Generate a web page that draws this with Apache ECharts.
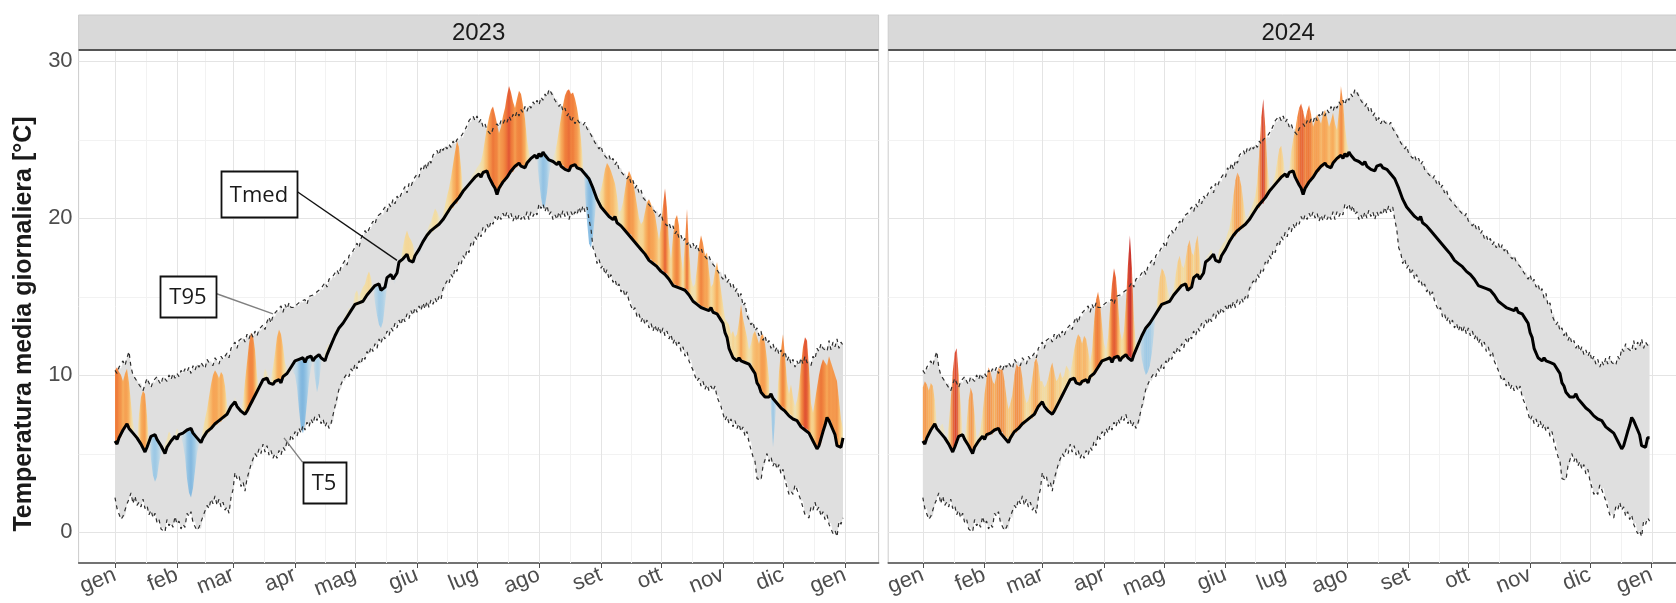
<!DOCTYPE html>
<html>
<head>
<meta charset="utf-8">
<script src="https://cdn.jsdelivr.net/npm/echarts@6/dist/echarts.min.js"></script>
<style>
  html, body { margin: 0; padding: 0; background: #ffffff; }
  #chart { width: 1676px; height: 603px; }
</style>
</head>
<body>
<div id="chart"></div>
<script>
// ---- Axis labels and ticks -------------------------------------------------
const monthNames = ['gen', 'feb', 'mar', 'apr', 'mag', 'giu', 'lug', 'ago', 'set', 'ott', 'nov', 'dic', 'gen'];
const monthStarts2023 = [0, 31, 59, 90, 120, 151, 181, 212, 243, 273, 304, 334, 365];
const monthStarts2024 = [0, 31, 60, 91, 121, 152, 182, 213, 244, 274, 305, 335, 366];
const yTicks = [0, 10, 20, 30];
const yMinorTicks = [5, 15, 25];
const years = ['2023', '2024'];

// ---- Daily climatology (day of year 0..365), °C ----------------------------
const tmed = [
  5.8, 5.6, 6.0, 6.0, 6.5, 6.5, 6.9, 6.6, 6.6, 6.3, 6.3, 6.0, 6.1, 5.6, 5.5, 5.1, 5.4, 5.5, 6.1, 6.2, 6.2, 5.9, 5.9, 5.5, 5.4, 5.0, 5.4, 5.4, 5.8, 5.7, 6.1,
  5.9, 6.2, 6.1, 6.3, 6.2, 6.5, 6.4, 6.6, 6.3, 6.4, 6.0, 6.1, 5.7, 6.0, 6.0, 6.4, 6.3, 6.6, 6.6, 6.9, 6.8, 7.1, 7.0, 7.3, 7.2, 7.5, 7.5, 8.0,
  7.9, 8.3, 8.0, 8.1, 7.7, 7.8, 7.5, 7.7, 7.7, 8.2, 8.2, 8.7, 8.7, 9.2, 9.2, 9.7, 9.6, 9.8, 9.5, 9.6, 9.4, 9.6, 9.5, 9.7, 9.5, 9.9, 9.8, 10.1, 10.1, 10.5, 10.5,
  10.9, 10.8, 11.0, 10.9, 11.1, 10.8, 11.1, 11.0, 11.2, 10.9, 11.1, 11.0, 11.3, 11.1, 11.2, 10.9, 11.3, 11.4, 11.9, 12.0, 12.5, 12.6, 13.0, 12.9, 13.3, 13.3, 13.7, 13.7, 14.1, 14.1,
  14.5, 14.4, 14.6, 14.5, 14.7, 14.7, 15.1, 15.1, 15.4, 15.4, 15.7, 15.6, 15.8, 15.4, 15.5, 15.6, 16.2, 16.1, 16.4, 16.1, 16.1, 16.5, 17.2, 17.1, 17.4, 17.4, 17.7, 17.3, 17.3, 17.2, 17.6,
  17.6, 18.0, 18.1, 18.5, 18.5, 18.9, 18.8, 19.2, 19.1, 19.4, 19.3, 19.6, 19.6, 19.9, 19.9, 20.3, 20.3, 20.7, 20.6, 21.0, 20.9, 21.3, 21.3, 21.7, 21.7, 22.0, 22.0, 22.3, 22.3, 22.6,
  22.5, 22.8, 22.6, 22.9, 22.8, 23.0, 22.6, 22.6, 22.1, 21.9, 21.5, 21.9, 21.9, 22.3, 22.3, 22.6, 22.6, 23.0, 22.9, 23.3, 23.2, 23.5, 23.3, 23.4, 23.2, 23.5, 23.5, 23.8, 23.7, 24.0, 23.8,
  24.1, 23.9, 24.2, 24.0, 24.1, 23.7, 23.8, 23.6, 23.7, 23.4, 23.6, 23.3, 23.4, 23.1, 23.2, 23.0, 23.3, 23.2, 23.4, 23.2, 23.3, 23.1, 23.1, 22.8, 22.9, 22.5, 22.5, 21.9, 21.8, 21.2, 21.1,
  20.7, 20.7, 20.4, 20.4, 20.1, 20.2, 19.9, 20.1, 19.7, 19.8, 19.5, 19.5, 19.2, 19.2, 18.9, 19.0, 18.6, 18.6, 18.3, 18.3, 18.0, 18.0, 17.7, 17.7, 17.3, 17.4, 17.1, 17.2, 16.9, 17.0,
  16.6, 16.7, 16.4, 16.5, 16.1, 16.1, 15.7, 15.8, 15.6, 15.7, 15.5, 15.6, 15.4, 15.5, 15.1, 15.1, 14.7, 14.8, 14.5, 14.6, 14.3, 14.4, 14.2, 14.3, 14.1, 14.3, 14.0, 14.1, 13.9, 13.9, 13.5,
  13.3, 12.7, 12.4, 11.7, 11.6, 11.1, 11.2, 10.9, 11.1, 10.9, 11.0, 10.8, 10.9, 10.7, 10.8, 10.3, 10.1, 9.5, 9.3, 8.9, 8.9, 8.6, 8.7, 8.6, 8.8, 8.5, 8.6, 8.2, 8.2, 7.9,
  8.0, 7.7, 7.7, 7.4, 7.5, 7.2, 7.3, 7.1, 7.1, 6.7, 6.8, 6.5, 6.6, 6.3, 6.3, 5.8, 5.7, 5.3, 5.5, 5.6, 6.4, 6.8, 7.3, 7.1, 7.1, 6.5, 6.2, 5.5, 5.5, 5.4, 6.0, 6.0
];
const t95 = [
  10.3, 10.1, 10.5, 10.4, 10.9, 10.6, 11.1, 11.5, 10.5, 10.0, 9.8, 9.7, 9.4, 9.5, 9.0, 9.4, 9.8, 9.5, 9.2, 9.6, 9.5, 9.9, 9.6, 9.4, 9.9, 9.8, 9.6, 10.0, 9.7, 10.1, 9.8,
  10.1, 9.9, 10.3, 10.1, 10.4, 10.2, 10.5, 10.1, 10.6, 10.3, 10.7, 10.5, 10.8, 10.6, 10.4, 11.0, 10.8, 10.9, 10.6, 11.1, 10.9, 10.7, 11.2, 11.0, 11.1, 11.4, 11.1, 11.7,
  11.6, 12.1, 11.7, 12.2, 12.1, 12.4, 12.1, 12.6, 12.3, 12.7, 12.4, 12.8, 12.5, 12.9, 12.8, 13.2, 12.9, 13.4, 13.7, 13.3, 13.8, 13.7, 14.1, 14.0, 14.4, 14.0, 14.5, 14.2, 14.6, 14.3, 14.4,
  14.3, 14.5, 14.4, 14.7, 14.6, 14.8, 14.5, 15.0, 14.9, 15.1, 15.0, 15.3, 15.2, 15.5, 15.4, 15.9, 15.6, 16.1, 16.0, 16.3, 16.2, 16.7, 16.4, 16.9, 16.8, 17.3, 17.0, 17.6, 17.5, 17.9,
  17.9, 18.4, 18.1, 18.7, 18.7, 19.2, 19.0, 19.3, 19.3, 19.8, 19.6, 20.1, 20.0, 20.3, 20.2, 20.7, 20.4, 20.9, 20.7, 21.2, 20.9, 21.4, 21.2, 21.5, 21.5, 22.0, 21.6, 22.2, 22.0, 22.4, 22.3,
  22.8, 22.6, 23.2, 23.0, 23.5, 23.1, 23.7, 23.5, 24.0, 23.9, 24.3, 24.0, 24.5, 24.3, 24.6, 24.4, 24.7, 24.5, 24.9, 24.7, 25.0, 24.9, 25.2, 25.1, 25.6, 25.6, 26.2, 26.1, 26.5, 26.2,
  26.5, 26.1, 26.3, 25.8, 26.0, 25.6, 25.7, 25.3, 25.7, 25.6, 26.0, 25.8, 26.2, 26.0, 26.3, 26.1, 26.5, 26.2, 26.6, 26.4, 26.8, 26.5, 26.9, 26.7, 27.1, 26.8, 27.2, 27.0, 27.4, 27.2, 27.5,
  27.2, 27.7, 27.5, 27.9, 27.7, 28.2, 28.0, 28.0, 27.5, 27.6, 27.1, 27.3, 26.8, 27.0, 26.5, 26.7, 26.1, 26.4, 26.0, 26.3, 26.1, 26.2, 25.9, 26.1, 25.7, 25.8, 25.3, 25.3, 24.8, 24.9, 24.4,
  24.6, 24.1, 24.2, 23.8, 24.0, 23.6, 23.8, 23.4, 23.6, 23.1, 23.2, 22.8, 22.9, 22.5, 22.7, 22.2, 22.4, 21.9, 22.1, 21.6, 21.8, 21.3, 21.4, 21.0, 21.1, 20.7, 20.8, 20.4, 20.5, 20.1,
  20.3, 19.8, 19.9, 19.5, 19.7, 19.3, 19.5, 19.0, 19.2, 18.7, 18.9, 18.5, 18.7, 18.3, 18.5, 18.1, 18.4, 18.0, 18.3, 17.9, 18.1, 17.7, 17.8, 17.4, 17.6, 17.2, 17.3, 16.9, 16.9, 16.5, 16.6,
  16.1, 16.4, 15.9, 16.1, 15.6, 15.8, 15.3, 15.5, 14.9, 15.2, 14.4, 14.6, 13.8, 13.9, 13.2, 13.4, 12.8, 13.0, 12.5, 12.8, 12.2, 12.5, 12.0, 12.2, 11.7, 12.0, 11.5, 11.8, 11.3, 11.6,
  11.2, 11.5, 10.9, 11.2, 10.7, 11.0, 10.5, 10.9, 10.6, 11.1, 10.7, 11.2, 10.8, 10.9, 10.6, 11.2, 11.0, 11.7, 11.5, 12.0, 11.7, 11.8, 11.5, 12.2, 11.6, 12.1, 11.8, 12.3, 11.7, 12.1, 11.9, 12.0
];
const t5 = [
  2.2, 1.5, 1.5, 0.8, 1.0, 1.0, 1.8, 2.1, 2.5, 1.8, 2.3, 1.7, 1.9, 1.6, 2.1, 1.5, 1.7, 1.1, 1.4, 0.9, 1.2, 0.6, 0.8, 0.2, 0.3, 0.0, 0.8, 0.4, 0.6, 0.3, 1.0,
  0.5, 0.7, 0.2, 0.5, 0.3, 1.2, 1.0, 1.3, 0.6, 0.7, 0.1, 0.3, 0.2, 1.0, 0.9, 1.7, 1.5, 2.1, 1.8, 2.3, 1.7, 2.1, 1.6, 1.9, 1.4, 1.6, 1.2, 2.2,
  2.7, 3.8, 3.4, 3.6, 2.9, 3.2, 2.6, 3.4, 3.4, 4.3, 4.2, 5.0, 4.8, 5.3, 5.0, 5.6, 5.1, 5.5, 4.9, 5.2, 4.7, 5.0, 4.7, 5.2, 4.9, 5.4, 5.2, 5.8, 5.5, 6.2, 5.9,
  6.4, 6.1, 6.6, 6.3, 6.8, 6.5, 7.0, 6.7, 7.2, 6.9, 7.4, 7.1, 7.5, 6.9, 7.2, 6.7, 7.0, 6.6, 6.9, 7.0, 8.0, 8.1, 9.1, 9.1, 9.7, 9.6, 10.1, 9.9, 10.4, 10.2,
  10.7, 10.4, 10.9, 10.7, 11.2, 11.0, 11.5, 11.3, 11.8, 11.5, 12.0, 11.7, 12.3, 12.0, 12.5, 12.3, 12.8, 12.5, 13.0, 12.8, 13.3, 13.0, 13.5, 13.2, 13.7, 13.4, 13.9, 13.6, 14.1, 13.8, 14.3,
  14.0, 14.4, 14.1, 14.6, 14.2, 14.7, 14.3, 14.8, 14.5, 14.9, 14.6, 15.0, 14.8, 15.5, 15.4, 16.0, 15.8, 16.4, 16.2, 16.8, 16.6, 17.2, 17.0, 17.6, 17.4, 18.0, 17.8, 18.4, 18.2, 18.8,
  18.6, 19.1, 18.8, 19.4, 19.1, 19.6, 19.3, 19.8, 19.6, 20.1, 19.8, 20.2, 19.9, 20.3, 20.0, 20.4, 20.0, 20.3, 19.8, 20.2, 19.8, 20.2, 19.9, 20.2, 19.9, 20.4, 19.9, 20.4, 20.1, 20.4, 20.2,
  20.9, 20.6, 20.9, 20.4, 20.8, 20.2, 20.4, 19.9, 20.2, 19.9, 20.4, 20.0, 20.5, 20.1, 20.4, 19.9, 20.4, 20.1, 20.4, 20.2, 20.7, 20.3, 20.8, 20.4, 20.7, 19.9, 19.3, 18.1, 17.8, 17.1, 17.4,
  16.8, 17.0, 16.4, 16.7, 16.1, 16.4, 15.9, 16.1, 15.6, 15.8, 15.3, 15.5, 15.0, 15.3, 14.7, 14.8, 14.1, 14.3, 13.7, 13.9, 13.4, 13.7, 13.2, 13.5, 13.0, 13.3, 12.8, 13.2, 12.7, 13.1,
  12.6, 13.0, 12.5, 12.8, 12.3, 12.6, 12.0, 12.3, 11.8, 12.1, 11.5, 11.8, 11.2, 11.5, 10.9, 11.0, 10.3, 10.3, 9.6, 9.8, 9.3, 9.6, 9.1, 9.4, 9.0, 9.3, 9.0, 9.3, 8.6, 8.7, 8.0,
  7.9, 7.1, 7.4, 6.9, 7.2, 6.7, 7.1, 6.6, 6.9, 6.4, 6.7, 6.1, 6.4, 5.7, 5.8, 4.8, 4.5, 3.4, 3.4, 3.3, 4.2, 4.3, 5.0, 4.5, 4.8, 4.2, 4.5, 4.0, 4.3, 3.7,
  4.0, 3.3, 3.2, 2.4, 2.6, 2.4, 3.0, 2.7, 2.8, 2.0, 2.0, 1.1, 1.2, 0.9, 1.6, 1.4, 1.9, 1.4, 1.6, 1.0, 1.3, 0.8, 1.1, 0.5, 0.6, -0.1, 0.1, -0.3, 0.7, 0.5, 0.9, 0.7
];

// ---- Observed daily mean temperature, °C -----------------------------------
const obs2023 = [
  10.3, 10.5, 10.2, 10.0, 9.6, 10.1, 10.4, 9.5, 8.2, 7.0, 6.4, 6.1, 7.5, 8.6, 9.0, 8.8, 7.4, 5.8, 4.6, 3.6, 3.2, 3.5, 4.4, 5.0, 5.4, 5.6, 6.0, 6.4, 6.2, 5.9, 6.3,
  6.6, 6.4, 6.0, 5.6, 4.8, 3.4, 2.5, 2.2, 2.8, 3.9, 5.0, 5.6, 6.0, 6.6, 7.2, 7.8, 8.6, 9.4, 10.0, 10.3, 10.1, 9.8, 10.2, 10.0, 9.3, 8.2, 7.5, 7.8,
  8.2, 8.6, 8.3, 7.8, 7.9, 8.4, 9.6, 10.8, 12.0, 12.7, 12.5, 11.6, 10.0, 9.2, 9.4, 9.9, 10.4, 10.2, 9.8, 9.9, 10.5, 11.4, 12.4, 12.9, 12.6, 11.8, 10.8, 10.4, 10.3, 10.4, 10.2,
  10.0, 9.2, 7.8, 6.6, 6.3, 7.0, 8.3, 9.6, 10.5, 10.8, 9.8, 8.9, 9.5, 10.6, 11.2, 11.4, 11.8, 12.0, 11.6, 12.3, 12.8, 13.0, 12.6, 12.9, 13.4, 13.8, 14.0, 14.3, 14.1, 14.5,
  15.2, 15.4, 15.0, 15.3, 15.6, 15.8, 16.3, 16.6, 16.2, 15.5, 14.6, 13.8, 13.2, 13.0, 13.4, 14.5, 15.6, 16.3, 16.4, 16.0, 15.8, 16.6, 17.3, 17.5, 18.2, 18.8, 19.2, 18.8, 18.6, 18.3, 17.8,
  17.9, 17.6, 17.9, 18.4, 18.9, 19.2, 19.5, 19.8, 20.2, 20.6, 20.4, 20.1, 19.9, 20.3, 20.8, 21.4, 21.9, 22.6, 23.4, 24.2, 24.9, 24.5, 23.2, 22.0, 21.8, 22.0, 22.3, 22.6, 22.8, 23.0,
  23.2, 23.4, 23.6, 24.2, 25.0, 25.8, 26.4, 26.9, 27.1, 26.6, 26.0, 25.4, 25.8, 26.5, 27.0, 27.8, 28.4, 28.0, 27.4, 27.0, 27.6, 28.1, 27.9, 27.2, 26.3, 25.0, 24.2, 23.8, 23.9, 24.2, 23.6,
  22.4, 21.3, 20.6, 20.8, 21.6, 22.7, 23.4, 23.9, 24.2, 24.8, 25.6, 26.4, 27.2, 27.8, 28.1, 28.2, 27.9, 28.0, 27.6, 27.0, 26.2, 25.0, 23.6, 21.5, 19.8, 18.4, 18.1, 18.9, 20.2, 21.4, 21.5,
  21.8, 22.4, 23.1, 23.5, 23.3, 23.0, 22.6, 22.2, 21.4, 20.4, 20.5, 21.0, 21.8, 22.6, 23.0, 22.7, 22.3, 21.6, 20.8, 20.0, 19.6, 19.8, 20.4, 21.0, 21.2, 20.9, 20.5, 20.2, 19.4, 18.6,
  19.5, 20.8, 21.9, 20.6, 18.4, 17.4, 18.8, 19.9, 20.2, 19.5, 17.6, 16.6, 18.5, 20.6, 18.0, 16.2, 15.6, 15.8, 16.8, 18.2, 18.9, 18.4, 17.6, 17.8, 16.6, 15.6, 15.8, 16.6, 17.2, 16.4, 15.4,
  14.5, 13.6, 13.4, 13.2, 12.6, 12.8, 12.4, 12.6, 13.4, 14.5, 13.6, 13.0, 12.4, 11.6, 12.0, 12.6, 12.8, 12.4, 12.0, 12.5, 12.6, 12.0, 11.0, 9.8, 7.6, 5.4, 7.0, 8.6, 10.2, 11.6,
  12.6, 11.2, 9.6, 8.8, 9.4, 8.6, 8.0, 8.4, 9.2, 10.6, 11.8, 12.4, 12.2, 10.4, 8.2, 7.6, 8.4, 9.2, 10.0, 10.6, 11.0, 10.8, 10.6, 11.2, 10.8, 10.4, 10.0, 9.6, 8.4, 7.2, 6.6
];
const obs2024 = [
  9.2, 9.6, 9.4, 9.0, 9.5, 9.3, 8.4, 7.0, 6.6, 6.8, 6.9, 6.4, 6.0, 6.8, 8.4, 10.2, 11.4, 11.7, 10.0, 8.0, 6.4, 6.2, 7.0, 8.4, 9.2, 8.8, 7.4, 6.0, 6.2, 6.6, 7.6,
  8.8, 9.8, 10.5, 10.2, 9.6, 9.4, 10.0, 10.5, 10.3, 10.4, 9.6, 8.6, 7.8, 8.2, 8.8, 10.0, 10.7, 10.5, 10.6, 9.8, 8.8, 8.2, 8.4, 9.0, 9.8, 10.8, 11.1, 10.6,
  9.6, 9.6, 9.2, 9.4, 9.8, 10.4, 10.8, 10.2, 9.6, 9.8, 10.2, 9.8, 10.0, 10.6, 10.4, 10.2, 10.8, 11.6, 12.2, 12.6, 12.4, 12.0, 12.5, 12.3, 11.6, 10.8, 11.6, 13.4, 14.8, 15.3, 14.6,
  13.2, 12.0, 11.6, 12.4, 14.2, 15.8, 16.8, 16.2, 14.6, 12.8, 12.2, 12.8, 14.6, 17.0, 18.9, 16.8, 13.6, 12.0, 12.2, 11.8, 11.0, 10.4, 10.0, 10.2, 10.6, 11.4, 12.6, 13.8, 15.2, 16.2,
  16.8, 16.6, 16.2, 15.4, 15.0, 15.2, 15.6, 16.4, 17.2, 17.6, 17.0, 16.8, 17.4, 18.2, 18.6, 17.8, 17.6, 18.4, 18.9, 17.6, 16.4, 16.8, 17.4, 17.6, 17.8, 18.0, 17.4, 17.0, 17.6, 18.0, 18.2,
  18.4, 18.6, 19.0, 19.4, 20.2, 21.4, 22.4, 22.9, 22.6, 22.0, 21.0, 20.2, 20.0, 20.4, 20.6, 21.0, 21.4, 22.4, 24.2, 26.4, 27.6, 25.8, 23.4, 22.2, 22.0, 22.4, 22.8, 23.6, 24.4, 24.6,
  23.8, 23.0, 22.8, 23.2, 24.2, 25.0, 25.6, 26.4, 27.0, 27.3, 26.8, 26.2, 26.8, 27.2, 26.6, 25.8, 26.2, 26.6, 26.3, 26.0, 26.6, 26.9, 26.4, 25.8, 26.2, 26.7, 26.0, 25.6, 26.8, 28.4,
  27.4, 25.8, 24.8, 24.4
];

// ---- Layout ----------------------------------------------------------------
const SANS = '"Liberation Sans", Arial, Helvetica, sans-serif';
const PANEL_LEFT = [78.6, 888.2];
const PANEL_TOP = 50, PANEL_W = 800, PANEL_H = 513;
const STRIP_TOP = 15;
const X_RANGE = [[-18.2, 381.8], [-17.4, 384.4]];
const Y_RANGE = [-1.97, 30.7];

// Anomaly colour ramp: warm above the mean, cool below
const warmRamp = [[0, 255, 238, 160, 0], [0.8, 255, 226, 130, 0.5], [2, 253, 200, 110, 0.8], [3.2, 250, 165, 75, 0.9],
                  [4.8, 240, 120, 50, 0.95], [6, 222, 70, 40, 0.95], [7.5, 190, 28, 30, 0.95]];
const coolRamp = [[0, 170, 212, 236, 0], [0.8, 170, 212, 236, 0.5], [2.5, 150, 200, 232, 0.8], [4.5, 118, 178, 222, 0.9]];

function rampColour(a) {
  const stops = a >= 0 ? warmRamp : coolRamp;
  const v = Math.abs(a);
  const last = stops[stops.length - 1];
  if (v >= last[0]) return `rgba(${last[1]},${last[2]},${last[3]},${last[4]})`;
  for (let k = 1; k < stops.length; k++) {
    if (v <= stops[k][0]) {
      const p = stops[k - 1], q = stops[k];
      const t = (v - p[0]) / (q[0] - p[0]);
      const m = j => p[j] + (q[j] - p[j]) * t;
      return `rgba(${Math.round(m(1))},${Math.round(m(2))},${Math.round(m(3))},${m(4).toFixed(3)})`;
    }
  }
  return 'rgba(0,0,0,0)';
}

// Background grid lines (major at months / every 10 °C, minor in between)
function gridLineSeries(k) {
  const starts = k === 0 ? monthStarts2023 : monthStarts2024;
  return {
    type: 'custom', xAxisIndex: k, yAxisIndex: k, z: 1, silent: true, clip: true,
    data: [[0, 0]],
    renderItem(params, api) {
      const cs = params.coordSys;
      const kids = [];
      const hLine = (v, col) => {
        const y = Math.round(api.coord([0, v])[1]) + 0.5;
        kids.push({ type: 'line', shape: { x1: cs.x, y1: y, x2: cs.x + cs.width, y2: y }, style: { stroke: col, lineWidth: 1 } });
      };
      const vLine = (d, col) => {
        const x = Math.round(api.coord([d, 0])[0]) + 0.5;
        kids.push({ type: 'line', shape: { x1: x, y1: cs.y, x2: x, y2: cs.y + cs.height }, style: { stroke: col, lineWidth: 1 } });
      };
      yMinorTicks.forEach(v => hLine(v, '#f2f2f2'));
      starts.slice(0, -1).forEach((d, i) => vLine((d + starts[i + 1]) / 2, '#f2f2f2'));
      yTicks.forEach(v => hLine(v, '#e4e4e4'));
      starts.forEach(d => vLine(d, '#e4e4e4'));
      return { type: 'group', children: kids };
    }
  };
}

// Grey ribbon between the 5th and 95th percentile
function bandSeries(k, n) {
  return {
    type: 'custom', xAxisIndex: k, yAxisIndex: k, z: 2, silent: true, clip: true,
    data: [[0, t5[0]]],
    renderItem(params, api) {
      const pts = [];
      for (let i = 0; i < n; i++) pts.push(api.coord([i, t95[i]]));
      for (let i = n - 1; i >= 0; i--) pts.push(api.coord([i, t5[i]]));
      return { type: 'polygon', shape: { points: pts }, style: { fill: '#dfdfdf' } };
    }
  };
}

// Coloured fill between the observed temperature and the daily mean
function anomalySeries(k, obs) {
  const data = obs.slice(0, -1).map((v, i) => [i, v, obs[i + 1], tmed[i], tmed[i + 1]]);
  return {
    type: 'custom', xAxisIndex: k, yAxisIndex: k, z: 3, silent: true, clip: true,
    encode: { x: 0, y: 1 },
    data,
    renderItem(params, api) {
      const x0 = api.value(0), o0 = api.value(1), o1 = api.value(2), m0 = api.value(3), m1 = api.value(4);
      const a0 = o0 - m0, a1 = o1 - m1;
      const c = (x, y) => api.coord([x, y]);
      const piece = (pts, ca, cb) => ({
        type: 'polygon', shape: { points: pts },
        style: { fill: new echarts.graphic.LinearGradient(0, 0, 1, 0, [
          { offset: 0, color: rampColour(ca) }, { offset: 1, color: rampColour(cb) }]) }
      });
      if (a0 * a1 >= 0) return piece([c(x0, m0), c(x0 + 1, m1), c(x0 + 1, o1), c(x0, o0)], a0, a1);
      const t = a0 / (a0 - a1), xc = x0 + t, yc = m0 + t * (m1 - m0);
      return {
        type: 'group', children: [
          piece([c(x0, m0), c(xc, yc), c(x0, o0)], a0, a0 > 0 ? 1e-6 : -1e-6),
          piece([c(xc, yc), c(x0 + 1, m1), c(x0 + 1, o1)], a1 > 0 ? 1e-6 : -1e-6, a1)
        ]
      };
    }
  };
}

function lineSeries(k, values, n, lineStyle, z) {
  return {
    type: 'line', xAxisIndex: k, yAxisIndex: k, z, silent: true,
    data: values.slice(0, n).map((v, i) => [i, v]),
    showSymbol: false, symbol: 'none', lineStyle
  };
}

// Labelled call-outs for the three curves
const annotations = [
  { text: 'Tmed', at: [72, 21.5], w: 76, h: 46, to: [141, 17.3], anchor: 'right', lead: '#111111' },
  { text: 'T95', at: [36.5, 15.0], w: 56, h: 41, to: [79, 13.9], anchor: 'right', lead: '#808080' },
  { text: 'T5', at: [104.5, 3.15], w: 43, h: 41, to: [84.5, 6.0], anchor: 'topleft', lead: '#808080' }
];

function annotationSeries() {
  return {
    type: 'custom', xAxisIndex: 0, yAxisIndex: 0, z: 6, silent: true, clip: false,
    data: [[0, 0]],
    renderItem(params, api) {
      const kids = [];
      annotations.forEach(a => {
        const [cx, cy] = api.coord(a.at);
        const [tx, ty] = api.coord(a.to);
        const sx = a.anchor === 'right' ? cx + a.w / 2 : cx - a.w / 2;
        const sy = a.anchor === 'right' ? cy - 3 : cy - a.h / 2;
        kids.push({ type: 'line', shape: { x1: sx, y1: sy, x2: tx, y2: ty }, style: { stroke: a.lead, lineWidth: 1.4 } });
        kids.push({ type: 'rect', shape: { x: Math.round(cx - a.w / 2) + 0.5, y: Math.round(cy - a.h / 2) + 0.5, width: a.w, height: a.h },
                    style: { fill: '#ffffff', stroke: '#111111', lineWidth: 1.8 } });
        kids.push({ type: 'text', x: cx, y: cy + 1,
                    style: { text: a.text, font: '22px "Open Sans", sans-serif', fill: '#1a1a1a', align: 'center', verticalAlign: 'middle' } });
      });
      return { type: 'group', children: kids };
    }
  };
}

function xAxisFor(k) {
  const starts = k === 0 ? monthStarts2023 : monthStarts2024;
  return {
    type: 'value', gridIndex: k, min: X_RANGE[k][0], max: X_RANGE[k][1],
    splitLine: { show: false },
    axisLine: { show: true, onZero: false, lineStyle: { color: '#4d4d4d', width: 1.5 } },
    axisTick: { show: true, customValues: starts, length: 5, lineStyle: { color: '#4d4d4d', width: 1 } },
    axisLabel: {
      show: true, customValues: starts, rotate: 22, margin: 11, color: '#4d4d4d',
      fontSize: 22, fontFamily: SANS, hideOverlap: false,
      formatter: v => { const i = starts.indexOf(v); return i >= 0 ? monthNames[i] : ''; }
    }
  };
}

function yAxisFor(k) {
  return {
    type: 'value', gridIndex: k, min: Y_RANGE[0], max: Y_RANGE[1],
    splitLine: { show: false },
    axisLine: { show: false },
    axisTick: { show: k === 0, customValues: yTicks, length: 4, lineStyle: { color: '#4d4d4d' } },
    axisLabel: { show: k === 0, customValues: yTicks, margin: 6, color: '#4d4d4d', fontSize: 22, fontFamily: SANS }
  };
}

const graphics = [];
years.forEach((yr, k) => {
  const x = PANEL_LEFT[k];
  graphics.push({ type: 'rect', z: 10, shape: { x: x, y: STRIP_TOP, width: PANEL_W, height: PANEL_TOP - STRIP_TOP },
                  style: { fill: '#d9d9d9', stroke: '#cccccc', lineWidth: 1 } });
  graphics.push({ type: 'line', z: 11, shape: { x1: x, y1: PANEL_TOP, x2: x + PANEL_W, y2: PANEL_TOP },
                  style: { stroke: '#555555', lineWidth: 2 } });
  graphics.push({ type: 'text', z: 12, x: x + PANEL_W / 2, y: (STRIP_TOP + PANEL_TOP) / 2 + 1,
                  style: { text: yr, font: `24px ${SANS}`, fill: '#1a1a1a', align: 'center', verticalAlign: 'middle',
                           textAlign: 'center', textVerticalAlign: 'middle' } });
});
graphics.push({ type: 'text', z: 12, x: 24, y: 324, rotation: Math.PI / 2,
                style: { text: 'Temperatura media giornaliera [°C]', font: `bold 25px ${SANS}`, fill: '#1a1a1a',
                         align: 'center', verticalAlign: 'middle', textAlign: 'center', textVerticalAlign: 'middle' } });

const series = [];
const obsByYear = [obs2023, obs2024];
years.forEach((yr, k) => {
  const n = k === 0 ? 365 : 366;
  series.push(gridLineSeries(k));
  series.push(bandSeries(k, n));
  series.push(anomalySeries(k, obsByYear[k]));
  series.push(lineSeries(k, t95, n, { color: '#2e2e2e', width: 1.2, type: [4, 4] }, 4));
  series.push(lineSeries(k, t5, n, { color: '#2e2e2e', width: 1.2, type: [4, 4] }, 4));
  series.push(lineSeries(k, tmed, n, { color: '#000000', width: 3 }, 5));
});
series.push(annotationSeries());

const chart = echarts.init(document.getElementById('chart'), null, { renderer: 'canvas' });
chart.setOption({
  animation: false,
  backgroundColor: '#ffffff',
  grid: years.map((yr, k) => ({
    left: PANEL_LEFT[k], top: PANEL_TOP, width: PANEL_W, height: PANEL_H,
    show: true, borderColor: '#cccccc', borderWidth: 1, backgroundColor: '#ffffff',
    containLabel: false, outerBoundsMode: 'none'
  })),
  xAxis: years.map((yr, k) => xAxisFor(k)),
  yAxis: years.map((yr, k) => yAxisFor(k)),
  graphic: graphics,
  series
});
</script>
</body>
</html>
